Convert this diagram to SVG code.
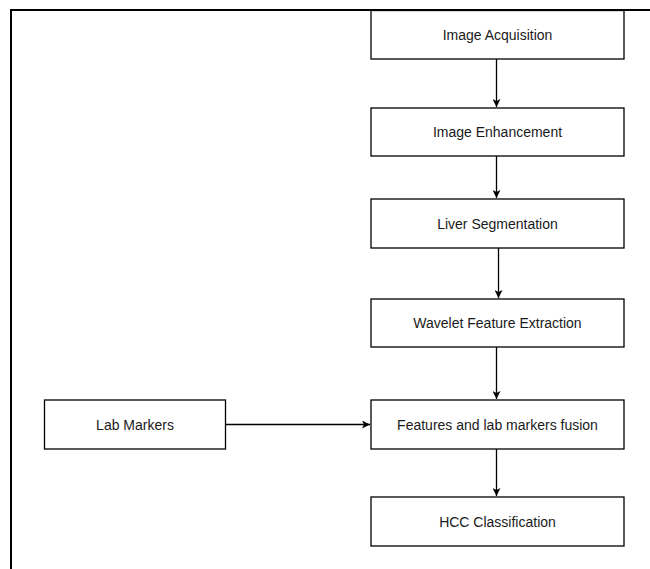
<svg xmlns="http://www.w3.org/2000/svg" width="650" height="569" viewBox="0 0 650 569">
<style>
.box{fill:#fff;stroke:#000;stroke-width:1.3}
.lbl{font-family:"Liberation Sans",Arial,sans-serif;font-size:14px;fill:#1a1a1a;text-anchor:middle;dominant-baseline:central}
.edge{stroke:#000;stroke-width:1.3;fill:none}
.frame{stroke:#000;stroke-width:2;fill:none}
</style>
<defs>
<marker id="ah" viewBox="0 0 10 10" refX="10" refY="5" markerWidth="8" markerHeight="8" markerUnits="userSpaceOnUse" orient="auto">
<path d="M0,0 L10,5 L0,10 L2.5,5 Z" fill="#000"/>
</marker>
</defs>
<rect width="650" height="569" fill="#fff"/>
<g id="frame">
<path class="frame" d="M11,569 V10 H650"/>
</g>
<g id="connectors">
<line class="edge" x1="496.5" y1="59" x2="496.5" y2="107" marker-end="url(#ah)"/>
<line class="edge" x1="496.5" y1="156" x2="496.5" y2="198" marker-end="url(#ah)"/>
<line class="edge" x1="498.5" y1="248" x2="498.5" y2="298" marker-end="url(#ah)"/>
<line class="edge" x1="496.5" y1="347" x2="496.5" y2="399" marker-end="url(#ah)"/>
<line class="edge" x1="226" y1="424.5" x2="370" y2="424.5" marker-end="url(#ah)"/>
<line class="edge" x1="496.5" y1="449" x2="496.5" y2="496" marker-end="url(#ah)"/>
</g>
<g id="n1"><rect class="box" x="371" y="10.5" width="253" height="48.5"/><text class="lbl" x="497.5" y="35">Image Acquisition</text></g>
<g id="n2"><rect class="box" x="371" y="108" width="253" height="48"/><text class="lbl" x="497.5" y="132">Image Enhancement</text></g>
<g id="n3"><rect class="box" x="371" y="199" width="253" height="49"/><text class="lbl" x="497.5" y="223.5">Liver Segmentation</text></g>
<g id="n4"><rect class="box" x="371" y="299" width="253" height="48"/><text class="lbl" x="497.5" y="323">Wavelet Feature Extraction</text></g>
<g id="n5"><rect class="box" x="44.5" y="400" width="181" height="49"/><text class="lbl" x="135" y="424.5">Lab Markers</text></g>
<g id="n6"><rect class="box" x="371" y="400" width="253" height="49"/><text class="lbl" x="497.5" y="424.5">Features and lab markers fusion</text></g>
<g id="n7"><rect class="box" x="371" y="497" width="253" height="49"/><text class="lbl" x="497.5" y="521.5">HCC Classification</text></g>
</svg>
